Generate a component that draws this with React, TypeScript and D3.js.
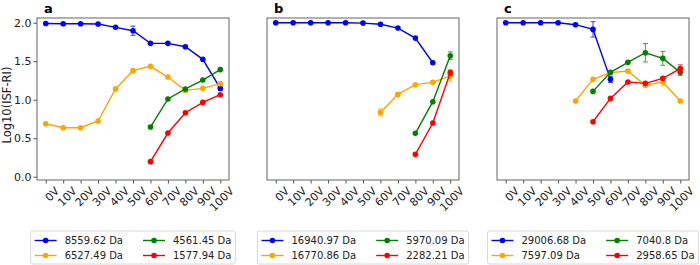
import React, { useRef, useEffect } from 'react';
import * as d3 from 'd3';

// 横轴电压
const voltages = ['0V', '10V', '20V', '30V', '40V', '50V', '60V', '70V', '80V', '90V', '100V'];
const yTicks = [0.0, 0.5, 1.0, 1.5, 2.0];
const panelTitles = ['a', 'b', 'c'];
const seriesColors = ['blue', 'orange', 'green', 'red'];

// 图例（每个面板四个质量）
const labelsA = ['8559.62 Da', '6527.49 Da', '4561.45 Da', '1577.94 Da'];
const labelsB = ['16940.97 Da', '16770.86 Da', '5970.09 Da', '2282.21 Da'];
const labelsC = ['29006.68 Da', '7597.09 Da', '7040.8 Da', '2958.65 Da'];

// 面板 a
const blueA = [1.99, 1.987, 1.987, 1.983, 1.94, 1.896, 1.732, 1.732, 1.688, 1.524, 1.147];
const blueAErr = [0.01, 0.01, 0.01, 0.01, 0.015, 0.06, 0.015, 0.01, 0.01, 0.015, 0.03];
const orangeA = [0.688, 0.636, 0.636, 0.723, 1.139, 1.377, 1.433, 1.294, 1.121, 1.147, 1.208];
const orangeAErr = [0.01, 0.02, 0.01, 0.01, 0.01, 0.01, 0.01, 0.01, 0.02, 0.01, 0.02];
const greenA = [null, null, null, null, null, null, 0.645, 1.009, 1.139, 1.255, 1.39];
const greenAErr = [0, 0, 0, 0, 0, 0, 0.01, 0.01, 0.01, 0.01, 0.01];
const redA = [null, null, null, null, null, null, 0.195, 0.567, 0.831, 0.965, 1.065];
const redAErr = [0, 0, 0, 0, 0, 0, 0.01, 0.01, 0.01, 0.01, 0.01];

// 面板 b
const blueB = [2.0, 2.0, 2.0, 2.0, 2.0, 1.995, 1.98, 1.93, 1.8, 1.48, null];
const blueBErr = [0, 0, 0, 0, 0, 0, 0, 0.01, 0.01, 0.01, 0];
const orangeB = [null, null, null, null, null, null, 0.835, 1.069, 1.195, 1.225, 1.31];
const orangeBErr = [0, 0, 0, 0, 0, 0, 0.045, 0.02, 0.01, 0.01, 0.07];
const greenB = [null, null, null, null, null, null, null, null, 0.563, 0.974, 1.571];
const greenBErr = [0, 0, 0, 0, 0, 0, 0, 0, 0.01, 0.01, 0.05];
const redB = [null, null, null, null, null, null, null, null, 0.29, 0.697, 1.351];
const redBErr = [0, 0, 0, 0, 0, 0, 0, 0, 0.01, 0.01, 0.035];

// 面板 c
const blueC = [2.0, 2.0, 2.0, 2.0, 1.974, 1.913, 1.264, null, null, null, null];
const blueCErr = [0, 0, 0, 0, 0.01, 0.1, 0.04, 0, 0, 0, 0];
const orangeC = [null, null, null, null, 0.983, 1.264, 1.351, 1.372, 1.186, 1.229, 0.983];
const orangeCErr = [0, 0, 0, 0, 0.01, 0.01, 0.01, 0.01, 0.02, 0.05, 0.01];
const greenC = [null, null, null, null, null, 1.108, 1.355, 1.485, 1.61, 1.537, 1.355];
const greenCErr = [0, 0, 0, 0, 0, 0.01, 0.01, 0.01, 0.12, 0.09, 0.04];
const redC = [null, null, null, null, null, 0.714, 1.017, 1.229, 1.212, 1.277, 1.403];
const redCErr = [0, 0, 0, 0, 0, 0.01, 0.01, 0.01, 0.01, 0.01, 0.05];

const panels = [
  { title: panelTitles[0], labels: labelsA, values: [blueA, orangeA, greenA, redA], errs: [blueAErr, orangeAErr, greenAErr, redAErr] },
  { title: panelTitles[1], labels: labelsB, values: [blueB, orangeB, greenB, redB], errs: [blueBErr, orangeBErr, greenBErr, redBErr] },
  { title: panelTitles[2], labels: labelsC, values: [blueC, orangeC, greenC, redC], errs: [blueCErr, orangeCErr, greenCErr, redCErr] },
];

const FONT = 'DejaVu Sans, sans-serif';

const App = () => {
  const ref = useRef<SVGSVGElement>(null);

  useEffect(() => {
    const svg = d3.select(ref.current);
    svg.selectAll('*').remove();

    const top = 18, bottom = 180, axW = 192;
    const y = d3.scaleLinear().domain([-0.043, 2.061]).range([bottom, top]);

    panels.forEach((p, pi) => {
      const left = 37 + pi * 230;
      const x = d3.scalePoint<string>().domain(voltages).range([left, left + axW]).padding(0.5);
      const g = svg.append('g');

      // 坐标框
      g.append('rect')
        .attr('x', left).attr('y', top).attr('width', axW).attr('height', bottom - top)
        .attr('fill', 'white').attr('stroke', '#555').attr('stroke-width', 0.9);

      // x轴
      const xa = g.append('g').attr('transform', `translate(0,${bottom})`)
        .call(d3.axisBottom(x).tickSize(3.5).tickPadding(2));
      xa.select('.domain').remove();
      xa.selectAll('line').attr('stroke', '#555');
      xa.selectAll('text')
        .attr('font-family', FONT).attr('font-size', 11).attr('fill', '#222')
        .attr('text-anchor', 'end')
        .attr('dy', '0.75em')
        .attr('transform', 'translate(4,2) rotate(-45)');

      // y轴（仅第一个面板）
      if (pi === 0) {
        const ya = g.append('g').attr('transform', `translate(${left},0)`)
          .call(d3.axisLeft(y).tickValues(yTicks).tickFormat(d3.format('.1f')).tickSize(3.5).tickPadding(2));
        ya.select('.domain').remove();
        ya.selectAll('line').attr('stroke', '#555');
        ya.selectAll('text').attr('font-family', FONT).attr('font-size', 11).attr('fill', '#222');
        g.append('text')
          .attr('transform', `translate(11,${(top + bottom) / 2 + 6}) rotate(-90)`)
          .attr('text-anchor', 'middle')
          .attr('font-family', FONT).attr('font-size', 11.5).attr('fill', '#222')
          .text('Log10(ISF-RI)');
      }

      // 标题
      g.append('text')
        .attr('x', left + 7).attr('y', 13)
        .attr('font-family', FONT).attr('font-size', 13).attr('font-weight', 'bold')
        .text(p.title);

      // 数据系列
      p.values.forEach((vals, si) => {
        const color = seriesColors[si];
        const pts = vals.map((v, i) => ({ v, e: p.errs[si][i], k: voltages[i] })).filter(d => d.v !== null);
        const line = d3.line<any>().x(d => x(d.k)!).y(d => y(d.v));
        g.append('path').datum(pts).attr('d', line)
          .attr('fill', 'none').attr('stroke', color).attr('stroke-width', 1.4);
        const eb = g.append('g').attr('stroke', color).attr('stroke-width', 1).attr('opacity', 0.75);
        pts.filter(d => d.e > 0.015).forEach(d => {
          const cx = x(d.k)!;
          eb.append('line').attr('x1', cx).attr('x2', cx).attr('y1', y(d.v - d.e)).attr('y2', y(d.v + d.e));
          eb.append('line').attr('x1', cx - 2.5).attr('x2', cx + 2.5).attr('y1', y(d.v - d.e)).attr('y2', y(d.v - d.e));
          eb.append('line').attr('x1', cx - 2.5).attr('x2', cx + 2.5).attr('y1', y(d.v + d.e)).attr('y2', y(d.v + d.e));
        });
        g.selectAll(null).data(pts).enter().append('circle')
          .attr('cx', d => x(d.k)!).attr('cy', d => y(d.v)).attr('r', 2.8)
          .attr('fill', color);
      });

      // 图例（两列，居中于面板下方）
      const lg = g.append('g');
      const box = lg.append('rect');
      const texts: any[] = [];
      p.labels.forEach((lab, li) => {
        const t = lg.append('text').attr('font-family', FONT).attr('font-size', 10).attr('fill', '#222').text(lab);
        texts.push(t);
      });
      const widths = texts.map(t => (t.node() as SVGTextElement).getComputedTextLength());
      const col1 = Math.max(widths[0], widths[1]);
      const col2 = Math.max(widths[2], widths[3]);
      const handle = 22, gap = 8, colSp = 20, pad = 4;
      const totalW = pad + handle + gap + col1 + colSp + handle + gap + col2 + pad;
      const bx = left + axW / 2 - totalW / 2;
      const by = 231;
      box.attr('x', bx).attr('y', by).attr('width', totalW).attr('height', 33).attr('rx', 2)
        .attr('fill', 'white').attr('stroke', '#d8d8d8').attr('stroke-width', 1);
      p.labels.forEach((lab, li) => {
        const col = li < 2 ? 0 : 1;
        const row = li % 2;
        const hx = bx + pad + (col === 0 ? 0 : handle + gap + col1 + colSp);
        const ry = by + 9.5 + row * 15;
        lg.append('line').attr('x1', hx).attr('x2', hx + handle).attr('y1', ry).attr('y2', ry)
          .attr('stroke', seriesColors[li]).attr('stroke-width', 1.4);
        lg.append('circle').attr('cx', hx + handle / 2).attr('cy', ry).attr('r', 2.8).attr('fill', seriesColors[li]);
        texts[li].attr('x', hx + handle + gap).attr('y', ry + 3.6);
      });
    });
  }, []);

  return (
    <svg ref={ref} width={700} height={265}
      style={{ position: 'absolute', left: 0, top: 0, background: 'white' }} />
  );
};

export default App;
